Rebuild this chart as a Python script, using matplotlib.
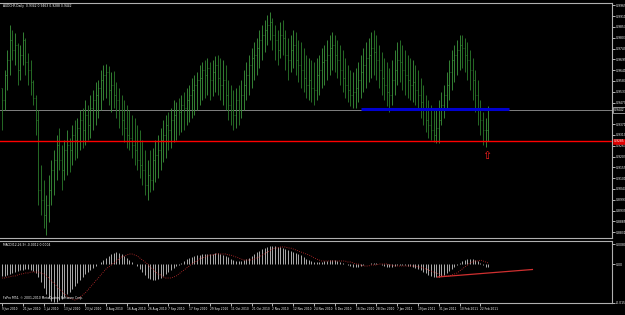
import matplotlib
matplotlib.use('Agg')
import matplotlib.pyplot as plt
import matplotlib.transforms as mtransforms
import numpy as np

title_text = 'AUDCHF,Daily  0.9342 0.9463 0.9288 0.9442'
macd_text = 'MACD(12,26,9) -0.0012 0.0004'
footer_text = 'FxPro MT4, \u00a9 2001-2010 MetaQuotes Software Corp.'

# daily bars 9 Jun 2010 .. 25 Feb 2011, prices in pips (x 0.0001)
high_pips = [9552, 9642, 9742, 9867, 9842, 9827, 9777, 9767, 9832, 9802,
             9727, 9692, 9592, 9517, 9442, 9167, 9092, 9017, 9117, 9192,
             9242, 9317, 9352, 9267, 9292, 9342, 9302, 9367, 9392, 9402,
             9442, 9452, 9492, 9467, 9517, 9542, 9582, 9592, 9642, 9667,
             9672, 9662, 9632, 9637, 9582, 9552, 9517, 9492, 9467, 9442,
             9417, 9402, 9367, 9342, 9292, 9242, 9192, 9242, 9252, 9292,
             9317, 9352, 9392, 9417, 9432, 9452, 9492, 9482, 9502, 9517,
             9532, 9552, 9567, 9602, 9617, 9632, 9667, 9682, 9692, 9702,
             9682, 9692, 9712, 9717, 9702, 9692, 9667, 9592, 9567, 9542,
             9552, 9567, 9592, 9642, 9682, 9717, 9752, 9782, 9802, 9842,
             9867, 9892, 9917, 9932, 9902, 9867, 9842, 9882, 9892, 9842,
             9802, 9817, 9842, 9832, 9792, 9782, 9752, 9717, 9702, 9692,
             9682, 9702, 9717, 9752, 9767, 9792, 9817, 9832, 9817, 9792,
             9767, 9742, 9702, 9667, 9642, 9632, 9652, 9682, 9717, 9752,
             9782, 9802, 9832, 9842, 9817, 9767, 9732, 9702, 9682, 9652,
             9692, 9742, 9782, 9792, 9767, 9742, 9717, 9702, 9692, 9667,
             9642, 9602, 9567, 9517, 9492, 9467, 9452, 9442, 9492, 9532,
             9567, 9632, 9692, 9742, 9767, 9792, 9817, 9817, 9802, 9782,
             9742, 9702, 9642, 9592, 9492, 9432, 9402, 9463]
low_pips = [9342, 9442, 9542, 9617, 9692, 9667, 9567, 9592, 9667, 9617,
            9567, 9517, 9467, 9317, 8967, 8917, 8852, 8817, 8882, 8967,
            9017, 9092, 9142, 9042, 9092, 9117, 9132, 9167, 9192, 9202,
            9242, 9252, 9267, 9292, 9302, 9342, 9367, 9402, 9442, 9492,
            9502, 9467, 9432, 9452, 9402, 9352, 9317, 9282, 9252, 9242,
            9202, 9167, 9142, 9102, 9067, 9017, 8992, 9032, 9042, 9082,
            9102, 9142, 9182, 9202, 9242, 9252, 9282, 9292, 9317, 9332,
            9342, 9367, 9382, 9402, 9417, 9442, 9467, 9492, 9502, 9517,
            9492, 9512, 9532, 9517, 9492, 9467, 9442, 9392, 9367, 9342,
            9352, 9367, 9402, 9442, 9492, 9517, 9552, 9592, 9617, 9652,
            9692, 9732, 9767, 9792, 9742, 9692, 9667, 9702, 9717, 9642,
            9592, 9632, 9652, 9617, 9582, 9552, 9532, 9502, 9492, 9482,
            9467, 9492, 9517, 9552, 9567, 9592, 9617, 9642, 9632, 9602,
            9567, 9532, 9502, 9482, 9462, 9452, 9452, 9482, 9502, 9532,
            9552, 9582, 9602, 9617, 9592, 9552, 9517, 9492, 9462, 9432,
            9467, 9517, 9567, 9582, 9542, 9517, 9502, 9492, 9482, 9467,
            9442, 9402, 9367, 9332, 9302, 9292, 9282, 9277, 9277, 9367,
            9402, 9442, 9492, 9542, 9582, 9617, 9642, 9652, 9632, 9592,
            9542, 9492, 9432, 9367, 9317, 9267, 9257, 9288]
close_pips = [9492, 9617, 9692, 9792, 9742, 9767, 9642, 9717, 9792, 9682,
              9642, 9582, 9502, 9392, 9042, 8992, 8917, 8967, 9042, 9142,
              9192, 9267, 9192, 9142, 9242, 9267, 9242, 9317, 9292, 9352,
              9392, 9342, 9417, 9367, 9452, 9492, 9517, 9552, 9592, 9617,
              9632, 9542, 9567, 9517, 9492, 9442, 9392, 9352, 9317, 9302,
              9267, 9242, 9192, 9167, 9142, 9067, 9117, 9092, 9192, 9217,
              9242, 9292, 9317, 9367, 9342, 9392, 9417, 9442, 9432, 9467,
              9452, 9492, 9517, 9542, 9567, 9592, 9602, 9642, 9617, 9652,
              9592, 9632, 9667, 9602, 9567, 9592, 9517, 9467, 9442, 9417,
              9492, 9442, 9517, 9567, 9617, 9667, 9702, 9717, 9752, 9792,
              9817, 9842, 9867, 9882, 9817, 9792, 9742, 9817, 9802, 9717,
              9692, 9742, 9767, 9692, 9667, 9642, 9602, 9567, 9592, 9552,
              9542, 9617, 9642, 9682, 9692, 9717, 9752, 9767, 9717, 9692,
              9642, 9602, 9567, 9542, 9517, 9532, 9552, 9592, 9632, 9667,
              9702, 9717, 9752, 9732, 9692, 9642, 9602, 9567, 9532, 9517,
              9592, 9642, 9692, 9682, 9642, 9617, 9592, 9567, 9582, 9542,
              9517, 9482, 9442, 9392, 9367, 9342, 9317, 9352, 9392, 9467,
              9517, 9567, 9632, 9692, 9717, 9742, 9767, 9752, 9717, 9692,
              9642, 9592, 9517, 9442, 9392, 9342, 9342, 9442]
first_open = 9552

# MACD(12,26,9) main (histogram) and signal, x 0.0001
macd_main = [-48, -48, -44, -40, -36, -32, -28, -24, -24, -20, -20, -24,
             -28, -36, -52, -72, -96, -120, -136, -148, -152,
             -152, -144, -140, -132, -120, -112, -100, -88, -76, -64, -52, -40, -32, -24, -16, -8,
             0, 8, 16, 24, 32, 40, 44, 48, 44, 40, 32, 24, 16, 8, 0,
             -8, -20, -32, -44, -56, -60, -64, -64, -60, -56, -48, -40, -32, -24, -16, -8, -4,
             4, 12, 20, 24, 28, 32, 36, 36, 40, 40, 40,
             40, 40, 44, 44, 40, 36, 32, 28, 20, 16,
             12, 12, 12, 16, 20, 24, 32, 40, 48, 52,
             60, 64, 68, 72, 72, 72, 68, 68, 64, 60,
             56, 52, 48, 44, 40, 36, 28, 20, 16, 12,
             8, 8, 8, 8, 12, 12, 16, 16, 16, 12,
             8, 4, 0, -4, -8, -12, -12, -12, -8, -4,
             0, 0, 4, 4, 4, 0, -4, -8, -12, -12,
             -12, -8, -4, -4, -4, -4, -8, -8, -12, -16,
             -20, -24, -32, -36, -44, -48, -52, -52, -52, -48,
             -44, -36, -28, -20, -12, -4, 4, 12, 16, 20,
             20, 20, 16, 12, 4, -4, -12, -12]
macd_signal = [-56, -56, -52, -52, -48, -48, -44, -40, -40, -36, -36, -32,
               -32, -32, -32, -36, -40, -48, -56, -68,
               -76, -88, -100, -108, -120, -128, -136, -140, -144, -140,
               -132, -124, -116, -104, -92, -80, -68, -56, -44, -32,
               -20, -12, -4, 4, 12, 20, 28, 32, 36, 40,
               40, 36, 32, 24, 16, 8, 0, -12, -20, -32,
               -40, -44, -52, -56, -56, -56, -52, -48, -40, -32,
               -24, -16, -8, 0, 8, 12, 20, 24, 28, 32,
               36, 36, 40, 40, 40, 40, 40, 36, 36, 32,
               28, 24, 20, 16, 16, 16, 16, 20, 24, 28,
               36, 40, 48, 52, 60, 64, 64, 68, 68, 68,
               64, 64, 60, 56, 52, 48, 44, 40, 36, 32,
               24, 20, 16, 12, 12, 12, 12, 12, 12, 12,
               12, 12, 12, 8, 8, 4, 0, 0, -4, -8,
               -8, -8, -4, -4, -4, 0, 0, 0, 0, -4,
               -4, -8, -8, -8, -8, -8, -8, -8, -8, -8,
               -12, -12, -16, -20, -24, -28, -32, -36, -40, -44,
               -48, -48, -48, -44, -40, -36, -28, -20, -12, -4,
               4, 8, 12, 12, 16, 12, 8, 4]

date_labels = ['9 Jun 2010', '21 Jun 2010', '1 Jul 2010', '13 Jul 2010', '23 Jul 2010',
               '4 Aug 2010', '16 Aug 2010', '26 Aug 2010', '7 Sep 2010', '17 Sep 2010',
               '29 Sep 2010', '11 Oct 2010', '21 Oct 2010', '2 Nov 2010', '12 Nov 2010',
               '24 Nov 2010', '6 Dec 2010', '16 Dec 2010', '28 Dec 2010', '7 Jan 2011',
               '19 Jan 2011', '31 Jan 2011', '10 Feb 2011', '22 Feb 2011']
date_bars = [0, 8, 16, 24, 32, 40, 48, 56, 64, 72, 80, 88, 96, 104, 112,
             120, 128, 136, 144, 152, 160, 168, 176, 184]

price_ticks = [0.9965, 0.9911, 0.9857, 0.9803, 0.9749, 0.9695, 0.9641, 0.9587,
               0.9533, 0.9479, 0.9371, 0.9317, 0.9263, 0.9209, 0.9155, 0.9101,
               0.9047, 0.8993, 0.8939, 0.8885, 0.8831]
macd_ticks = [0.0080, 0.0, -0.0156]
macd_tick_labels = ['0.0080', '0.00', '-0.0156']

bid_price = 0.9442
support_price = 0.9285
blue_level = 0.9447
blue_start, blue_end = 138, 195
arrow_bar, arrow_price = 186.5, 0.9212
macd_trend_x = [167.5, 204]
macd_trend_y = [-0.0052, -0.0022]

high = np.array(high_pips) / 10000
low = np.array(low_pips) / 10000
close = np.array(close_pips) / 10000
opn = np.concatenate([[first_open], close_pips[:-1]]) / 10000
idx = np.arange(len(close))

txt_col = 'white'
frame_col = '#b0b0b0'
fs = 2.2

fig = plt.figure(figsize=(6.25, 3.15), dpi=100, facecolor='black')
ax = fig.add_axes([0.0, 1 - 238 / 315, 612 / 625, 235 / 315], facecolor='black')
ax2 = fig.add_axes([0.0, 12 / 315, 612 / 625, 62 / 315], facecolor='black')

for a in (ax, ax2):
    for side in ('top', 'right', 'bottom'):
        a.spines[side].set_color(frame_col)
        a.spines[side].set_linewidth(0.8)
    a.spines['left'].set_visible(False)
    a.set_xlim(-0.77, 234.6)

# price bars
up = close >= opn
bar_col = np.where(up, '#3c963c', '#2c7c2c')
ax.vlines(idx, low, high, colors=bar_col, lw=0.6)
ax.hlines(opn, idx - 0.4, idx, colors=bar_col, lw=0.4)
ax.hlines(close, idx, idx + 0.4, colors=bar_col, lw=0.4)

ax.axhline(bid_price, color='#808080', lw=0.7, zorder=0)
ax.axhline(support_price, color='#ff0000', lw=1.0)
ax.hlines(blue_level, blue_start, blue_end, colors='#0000d0', lw=2.2)
ax.text(arrow_bar, arrow_price, '\u21e7', color='#ff2020', fontsize=8,
        ha='center', va='center')

ax.set_ylim(0.8802, 0.9977)
ax.set_xticks([])
ax.yaxis.tick_right()
ax.set_yticks(price_ticks)
ax.set_yticklabels(['%.4f' % t for t in price_ticks])
ax.tick_params(axis='y', labelsize=fs, colors=txt_col, length=2, width=0.5, pad=0.6)

trans = mtransforms.blended_transform_factory(ax.transAxes, ax.transData)
ax.text(1.003, bid_price, '%.4f' % bid_price, transform=trans, fontsize=fs, color='white',
        va='center', ha='left',
        bbox=dict(facecolor='black', edgecolor='white', lw=0.4, pad=0.4))
ax.text(1.003, support_price, '%.4f' % support_price, transform=trans, fontsize=fs,
        color='white', va='center', ha='left',
        bbox=dict(facecolor='#e00000', edgecolor='#e00000', lw=0.4, pad=0.4))

# MACD window
main = np.array(macd_main) / 10000
sig = np.array(macd_signal) / 10000
ax2.vlines(idx, 0, main, colors='#c8c8c8', lw=0.6)
ax2.plot(idx, sig, color='#d03030', lw=0.6, ls=':')
ax2.plot(macd_trend_x, macd_trend_y, color='#d03030', lw=0.9)
ax2.set_ylim(-0.0156, 0.0092)
ax2.yaxis.tick_right()
ax2.set_yticks(macd_ticks)
ax2.set_yticklabels(macd_tick_labels)
ax2.tick_params(axis='y', labelsize=fs, colors=txt_col, length=2, width=0.5, pad=0.6)
ax2.set_xticks(date_bars)
ax2.set_xticklabels(date_labels, ha='left')
ax2.tick_params(axis='x', labelsize=2.1, colors=txt_col, length=2, width=0.5, pad=1)

fig.text(3 / 625, 1 - 6 / 315, title_text, fontsize=fs, color=txt_col, va='center')
fig.text(3 / 625, 1 - 245 / 315, macd_text, fontsize=fs, color=txt_col, va='center')
fig.text(3 / 625, 1 - 298 / 315, footer_text, fontsize=fs, color=txt_col, va='center')

fig.savefig('out.png', dpi=100, facecolor='black')
